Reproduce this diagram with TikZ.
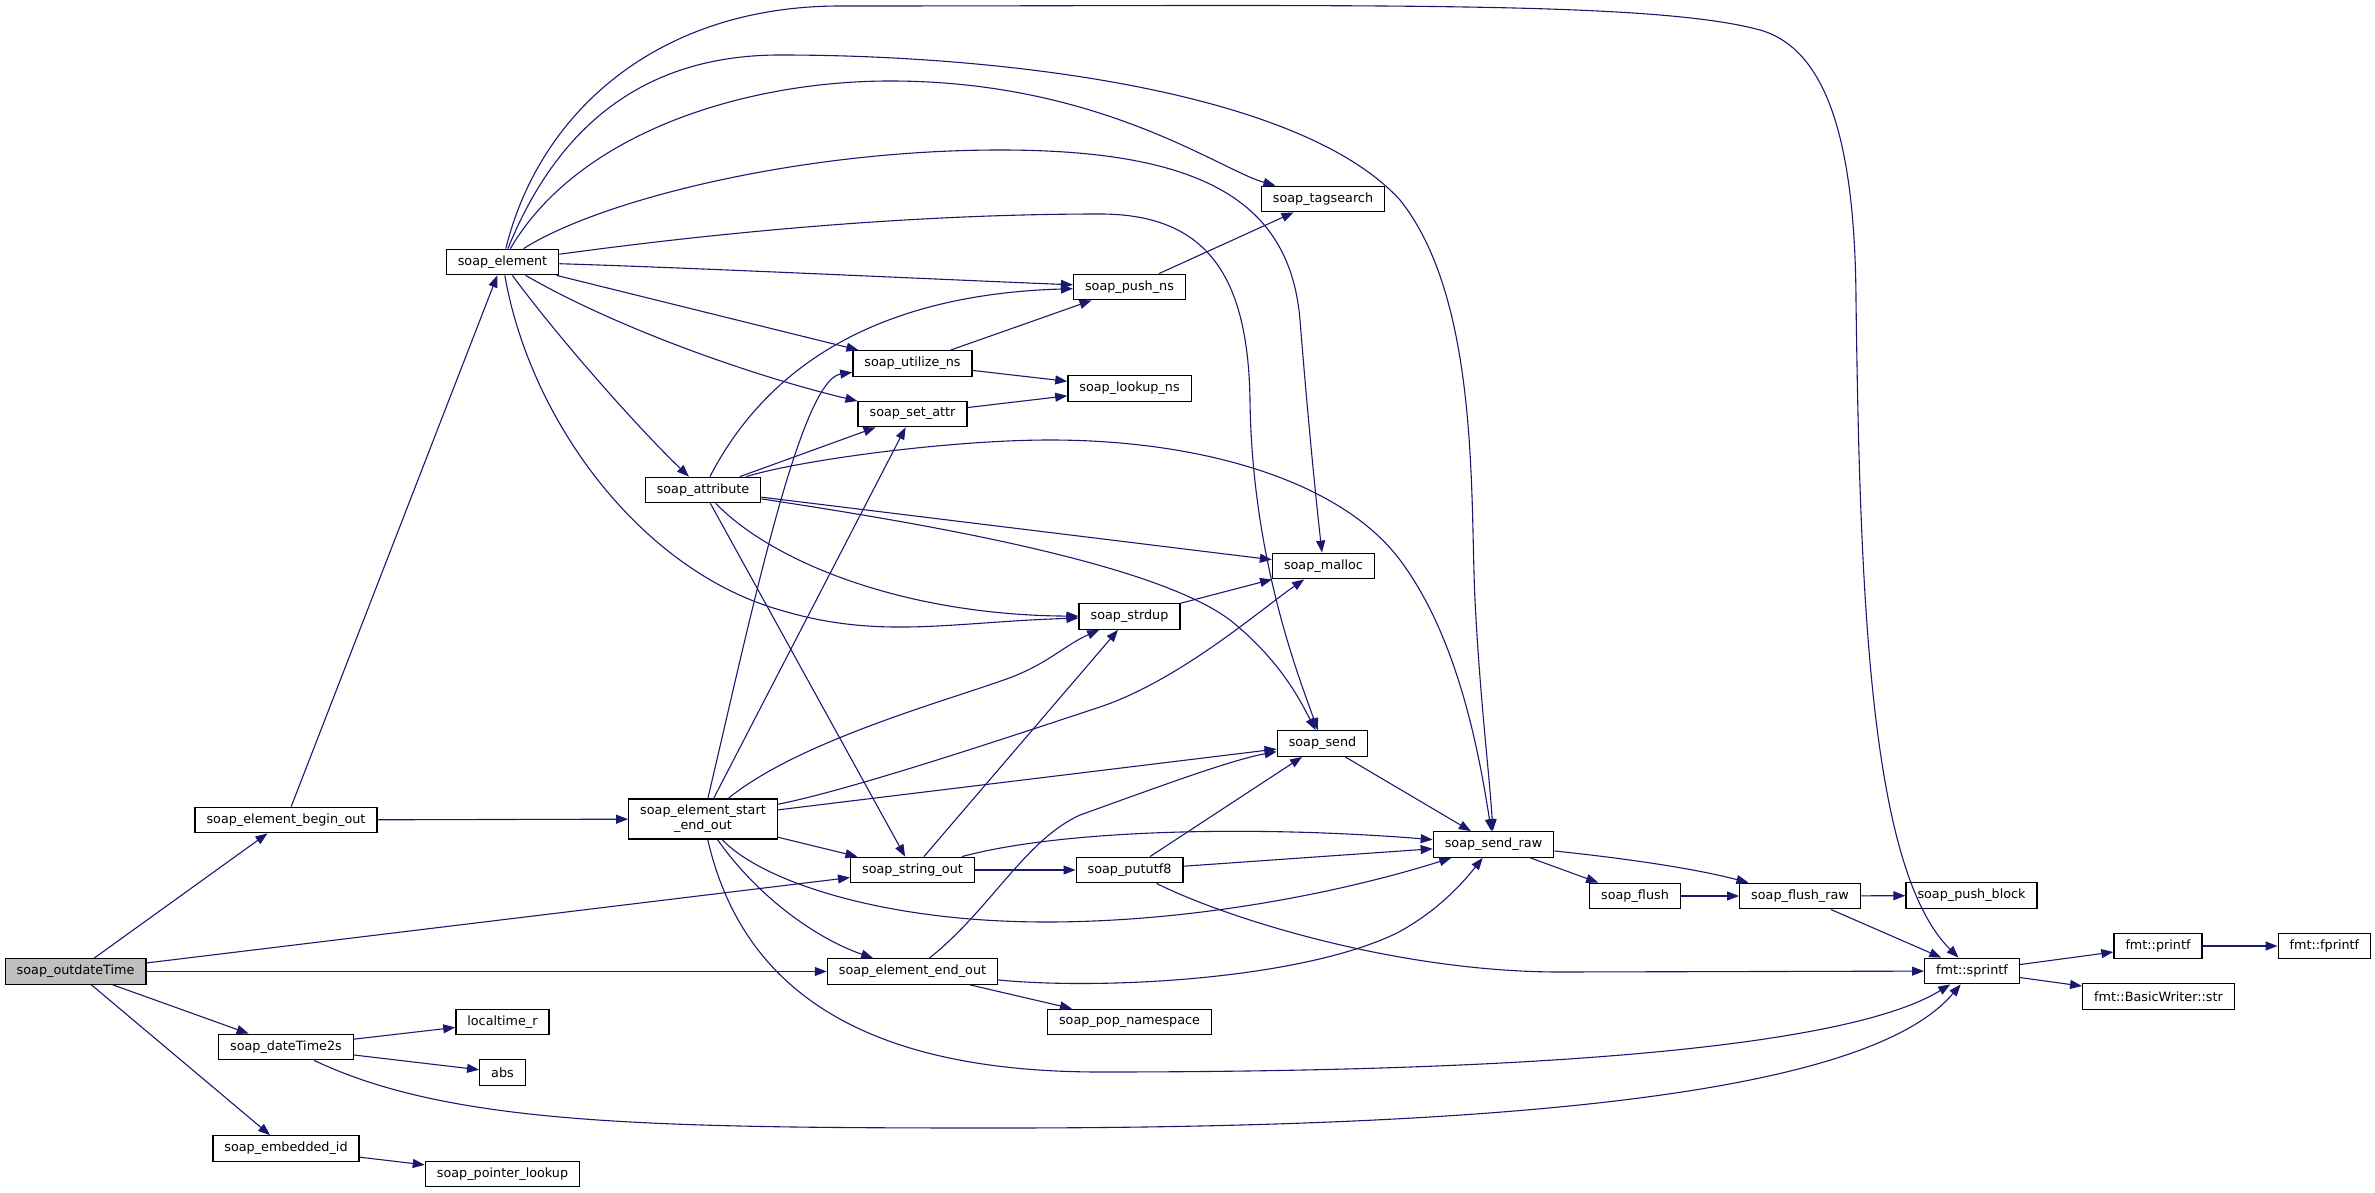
\documentclass[tikz,border=0pt]{standalone}
\usepackage{fontspec}
\setmainfont{DejaVu Sans}
\usetikzlibrary{arrows.meta}
\definecolor{midnightblue}{HTML}{191970}

\begin{document}
\begin{tikzpicture}[x=1pt, y=-1pt,
    box/.style={rectangle, draw=black, line width=1.3pt, fill=white, minimum height=25.5pt, inner xsep=11.5pt, inner ysep=2pt, align=center, font=\fontsize{12.77}{15}\selectfont},
    root/.style={box, fill=gray!50},
    arrow/.style={-{Triangle[length=12pt, width=9pt]}, line width=1.1pt, midnightblue}
]
\useasboundingbox (0,0) rectangle (2375,1193);
\node[root] (outdate) at (75.6,971.5) {soap\_outdateTime};
\node[box] (beginout) at (286,820) {soap\_element\_begin\_out};
\node[box] (datetime) at (286,1047) {soap\_dateTime2s};
\node[box] (embedded) at (286,1148.5) {soap\_embedded\_id};
\node[box] (element) at (502.5,262) {soap\_element};
\node[box] (localtime) at (502.5,1022) {localtime\_r};
\node[box] (abs) at (502.5,1072.5) {abs};
\node[box] (ptrlookup) at (502.5,1174) {soap\_pointer\_lookup};
\node[box] (attribute) at (703,490) {soap\_attribute};
\node[box, minimum height=40pt] (startend) at (703,819) {soap\_element\_start\\\_end\_out};
\node[box] (utilize) at (912.5,363.5) {soap\_utilize\_ns};
\node[box] (setattr) at (912.5,414) {soap\_set\_attr};
\node[box] (stringout) at (912.5,870) {soap\_string\_out};
\node[box] (endout) at (912.5,971.5) {soap\_element\_end\_out};
\node[box] (pushns) at (1129.5,287) {soap\_push\_ns};
\node[box] (lookupns) at (1129.5,388.5) {soap\_lookup\_ns};
\node[box] (strdup) at (1129.5,616.5) {soap\_strdup};
\node[box] (pututf8) at (1129.5,870) {soap\_pututf8};
\node[box] (popns) at (1129.5,1022) {soap\_pop\_namespace};
\node[box] (tagsearch) at (1323,199) {soap\_tagsearch};
\node[box] (malloc) at (1323.5,566) {soap\_malloc};
\node[box] (send) at (1322.5,743.5) {soap\_send};
\node[box] (sendraw) at (1493.5,844.5) {soap\_send\_raw};
\node[box] (flush) at (1635,896) {soap\_flush};
\node[box] (flushraw) at (1800,896) {soap\_flush\_raw};
\node[box] (pushblock) at (1971.5,895.5) {soap\_push\_block};
\node[box] (sprintf) at (1972,971) {fmt::sprintf};
\node[box] (printf) at (2158,946) {fmt::printf};
\node[box] (fprintf) at (2324.4,946) {fmt::fprintf};
\node[box] (bwstr) at (2158.5,996.5) {fmt::BasicWriter::str};
\draw[arrow] (outdate) -- (beginout);
\draw[arrow] (outdate) -- (stringout);
\draw[arrow] (outdate) -- (endout);
\draw[arrow] (outdate) -- (datetime);
\draw[arrow] (outdate) -- (embedded);
\draw[arrow] (beginout) -- (element);
\draw[arrow] (beginout) -- (startend);
\draw[arrow] (datetime) -- (localtime);
\draw[arrow] (datetime) -- (abs);
\draw[arrow] (datetime) .. controls (450,1125) and (650,1128) .. (1000,1128) .. controls (1600,1128) and (1880,1080) .. (sprintf);
\draw[arrow] (embedded) -- (ptrlookup);
\draw[arrow] (element) .. controls (540,110) and (660,6) .. (840,6) .. controls (1350,6) and (1650,0) .. (1760,30) .. controls (1830,50) and (1855,150) .. (1856,300) .. controls (1860,600) and (1870,870) .. (sprintf);
\draw[arrow] (element) .. controls (560,120) and (650,55) .. (780,55) .. controls (1000,55) and (1300,90) .. (1400,200) .. controls (1480,300) and (1470,500) .. (1475,600) .. controls (1480,700) and (1490,780) .. (sendraw);
\draw[arrow] (element) .. controls (580,130) and (750,81) .. (890,81) .. controls (1100,81) and (1220,170) .. (tagsearch);
\draw[arrow] (element) .. controls (600,200) and (800,150) .. (1000,150) .. controls (1200,150) and (1290,200) .. (1300,320) .. controls (1308,420) and (1316,500) .. (malloc);
\draw[arrow] (element) .. controls (700,235) and (900,214) .. (1100,214) .. controls (1210,214) and (1248,280) .. (1250,400) .. controls (1252,560) and (1300,680) .. (send);
\draw[arrow] (element) .. controls (700,268) and (950,280) .. (pushns);
\draw[arrow] (element) -- (utilize);
\draw[arrow] (element) .. controls (620,330) and (760,378) .. (setattr);
\draw[arrow] (element) .. controls (560,340) and (640,430) .. (attribute);
\draw[arrow] (element) .. controls (530,420) and (640,570) .. (780,610) .. controls (880,640) and (950,622) .. (strdup);
\draw[arrow] (attribute) .. controls (760,380) and (860,295) .. (pushns);
\draw[arrow] (attribute) -- (setattr);
\draw[arrow] (attribute) .. controls (800,460) and (950,440) .. (1050,440) .. controls (1200,440) and (1340,480) .. (1400,560) .. controls (1460,640) and (1480,760) .. (sendraw);
\draw[arrow] (attribute) -- (malloc);
\draw[arrow] (attribute) .. controls (900,520) and (1150,560) .. (1230,620) .. controls (1280,660) and (1300,700) .. (send);
\draw[arrow] (attribute) -- (stringout);
\draw[arrow] (attribute) .. controls (770,560) and (900,615) .. (strdup);
\draw[arrow] (utilize) -- (pushns);
\draw[arrow] (utilize) -- (lookupns);
\draw[arrow] (setattr) -- (lookupns);
\draw[arrow] (pushns) -- (tagsearch);
\draw[arrow] (strdup) -- (malloc);
\draw[arrow] (startend) .. controls (750,620) and (800,380) .. (utilize);
\draw[arrow] (startend) -- (setattr);
\draw[arrow] (startend) .. controls (800,740) and (950,700) .. (1012,677) .. controls (1050,662) and (1065,645) .. (strdup);
\draw[arrow] (startend) .. controls (850,790) and (1000,740) .. (1100,707) .. controls (1180,680) and (1260,610) .. (malloc);
\draw[arrow] (startend) -- (send);
\draw[arrow] (startend) -- (stringout);
\draw[arrow] (startend) .. controls (760,880) and (880,922) .. (1046,922) .. controls (1200,922) and (1350,890) .. (sendraw);
\draw[arrow] (startend) .. controls (760,900) and (820,940) .. (endout);
\draw[arrow] (startend) .. controls (740,980) and (850,1072) .. (1100,1072) .. controls (1600,1072) and (1860,1040) .. (sprintf);
\draw[arrow] (stringout) -- (strdup);
\draw[arrow] (stringout) .. controls (1060,830) and (1250,825) .. (sendraw);
\draw[arrow] (stringout) -- (pututf8);
\draw[arrow] (pututf8) -- (send);
\draw[arrow] (pututf8) -- (sendraw);
\draw[arrow] (pututf8) .. controls (1230,920) and (1400,972) .. (1560,972) -- (sprintf);
\draw[arrow] (endout) .. controls (990,910) and (1025,840) .. (1080,815) .. controls (1150,790) and (1230,760) .. (send);
\draw[arrow] (endout) .. controls (1100,990) and (1300,980) .. (1397,933) .. controls (1440,910) and (1465,880) .. (sendraw);
\draw[arrow] (endout) -- (popns);
\draw[arrow] (send) -- (sendraw);
\draw[arrow] (sendraw) -- (flush);
\draw[arrow] (sendraw) .. controls (1640,860) and (1700,870) .. (flushraw);
\draw[arrow] (flush) -- (flushraw);
\draw[arrow] (flushraw) -- (pushblock);
\draw[arrow] (flushraw) -- (sprintf);
\draw[arrow] (sprintf) -- (printf);
\draw[arrow] (sprintf) -- (bwstr);
\draw[arrow] (printf) -- (fprintf);
\end{tikzpicture}
\end{document}
